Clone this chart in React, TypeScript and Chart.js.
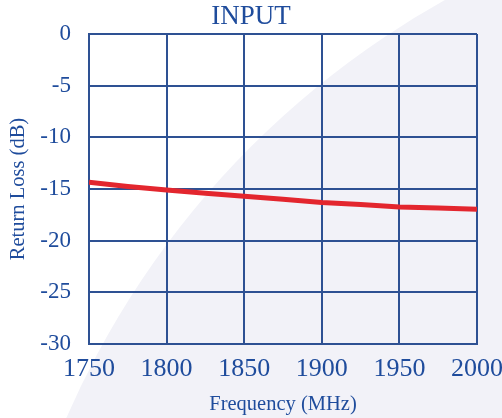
import React, { useEffect, useRef } from "react";
import { Chart, registerables } from "chart.js";

Chart.register(...registerables);

const frequencies = [1750, 1775, 1800, 1825, 1850, 1875, 1900, 1925, 1950, 1975, 2000];
const returnLoss = [-14.35, -14.75, -15.1, -15.4, -15.7, -16.0, -16.3, -16.5, -16.75, -16.85, -16.95];
const xTicks = [1750, 1800, 1850, 1900, 1950, 2000];
const yTicks = [0, -5, -10, -15, -20, -25, -30];

const TEXT = "#1f4c9c";
const GRID = "#2e5193";
const SERIF = "'Liberation Serif', 'Times New Roman', serif";

const backgroundPlugin = {
  id: "bgSwoosh",
  beforeDraw(chart: any) {
    const { ctx, width, height } = chart;
    ctx.save();
    ctx.fillStyle = "#ffffff";
    ctx.fillRect(0, 0, width, height);
    ctx.fillStyle = "#f2f2f8";
    ctx.beginPath();
    ctx.arc(875, 770, 882, 0, Math.PI * 2);
    ctx.fill();
    ctx.restore();
  },
};

export default function App() {
  const ref = useRef<HTMLCanvasElement | null>(null);

  useEffect(() => {
    if (!ref.current) return;
    const chart = new Chart(ref.current, {
      type: "line",
      data: {
        datasets: [
          {
            data: frequencies.map((f, i) => ({ x: f, y: returnLoss[i] })),
            borderColor: "#e3262e",
            borderWidth: 5,
            pointRadius: 0,
            tension: 0,
            fill: false,
          },
        ],
      },
      options: {
        responsive: false,
        animation: false,
        layout: { padding: { left: 0, right: 0, top: 0, bottom: 0 } },
        plugins: {
          legend: { display: false },
          tooltip: { enabled: false },
          title: {
            display: true,
            text: "INPUT",
            color: TEXT,
            font: { family: SERIF, size: 27, weight: "normal" },
            padding: { top: 0.3, bottom: 1.3 },
          },
        },
        scales: {
          x: {
            type: "linear",
            min: 1750,
            max: 2000,
            afterBuildTicks: (scale: any) => {
              scale.ticks = xTicks.map((v) => ({ value: v }));
            },
            afterFit: (scale: any) => {
              scale.height = 74;
              scale.paddingRight = 25;
              scale.paddingLeft = 0;
            },
            ticks: {
              color: TEXT,
              font: { family: SERIF, size: 26 },
              padding: 10,
              maxRotation: 0,
              autoSkip: false,
              callback: (v: any) => String(v),
            },
            grid: { color: GRID, lineWidth: 2, drawTicks: false },
            border: { color: GRID, width: 2 },
            title: {
              display: true,
              text: "Frequency (MHz)",
              color: TEXT,
              font: { family: SERIF, size: 20.5 },
              padding: { top: 0, bottom: 0.7 },
            },
          },
          y: {
            type: "linear",
            min: -30,
            max: 0,
            afterBuildTicks: (scale: any) => {
              scale.ticks = yTicks.map((v) => ({ value: v }));
            },
            afterFit: (scale: any) => {
              scale.width = 89;
            },
            ticks: {
              color: TEXT,
              font: { family: SERIF, size: 23 },
              padding: 18,
              autoSkip: false,
              callback: (v: any) => String(v),
            },
            grid: { color: GRID, lineWidth: 2, drawTicks: false },
            border: { color: GRID, width: 2 },
            title: {
              display: true,
              text: "Return Loss (dB)",
              color: TEXT,
              font: { family: SERIF, size: 20.5 },
              padding: { top: 6.7, bottom: 0 },
            },
          },
        },
      },
      plugins: [backgroundPlugin],
    });
    return () => chart.destroy();
  }, []);

  return (
    <div style={{ position: "fixed", left: 0, top: 0, width: 502, height: 418 }}>
      <canvas ref={ref} width={502} height={418} />
    </div>
  );
}
